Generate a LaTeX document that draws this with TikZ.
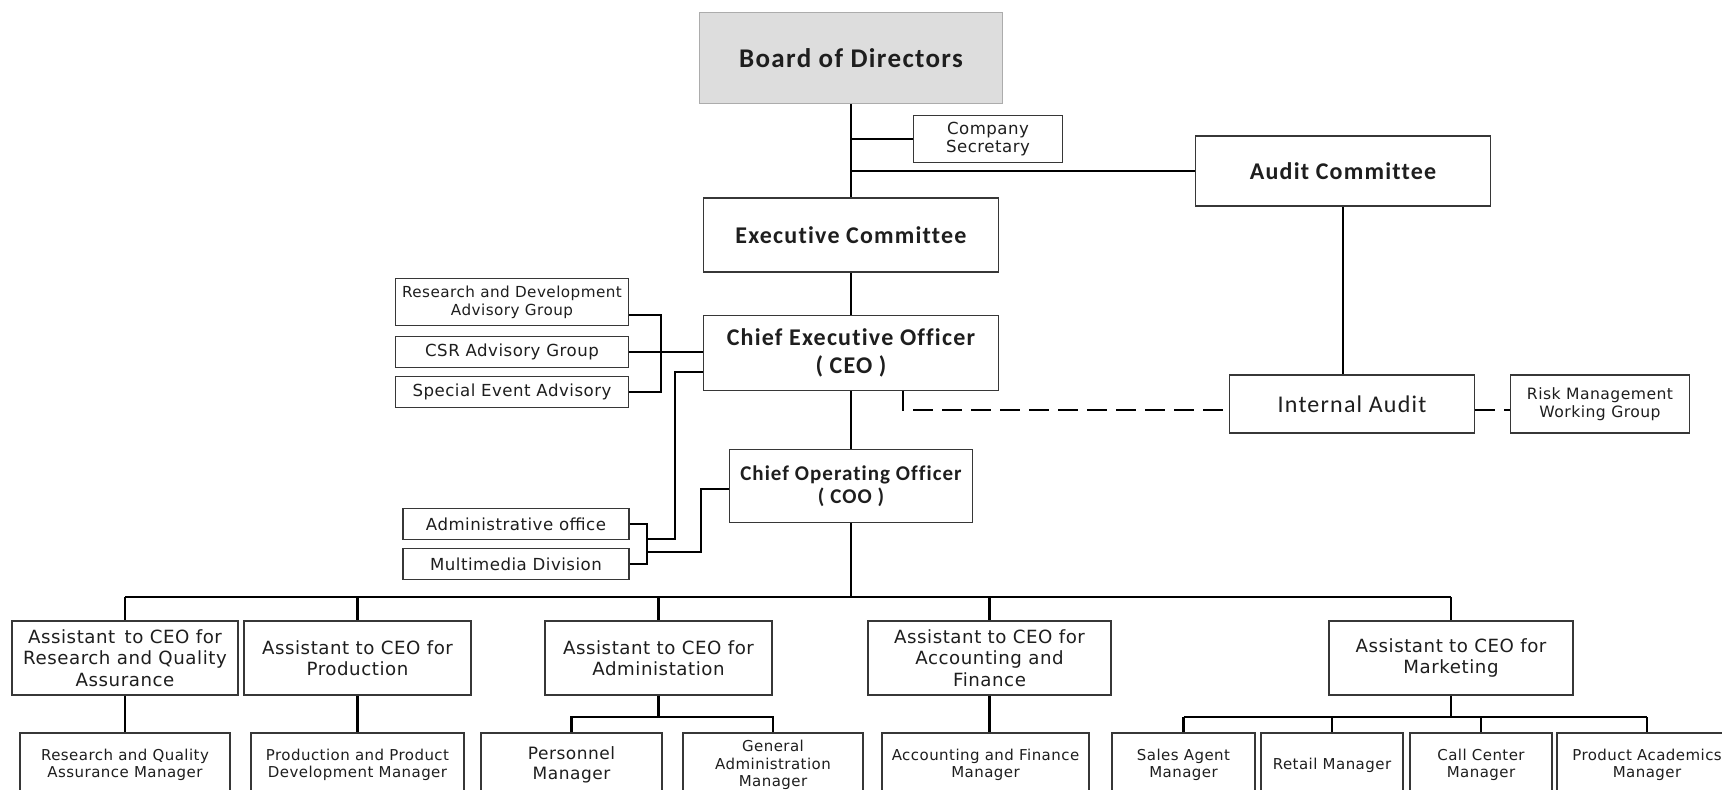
\documentclass[tikz,border=0pt]{standalone}
\usepackage{fontspec}
\setmainfont[LetterSpace=3]{DejaVu Sans}
\newfontfamily\headfont[LetterSpace=5,Ligatures=NoCommon]{Carlito}
\usepackage{tikz}
\definecolor{ink}{RGB}{30,30,30}
\definecolor{frame}{RGB}{55,55,55}
\definecolor{boardgray}{RGB}{221,221,221}
\tikzset{
  sz/.style 2 args={minimum width=#1*0.5pt,minimum height=#2*0.5pt},
  unitbox/.style={draw=frame,line width=0.8pt,fill=white,inner sep=1pt,align=center,text=ink},
  headbox/.style={unitbox,font=\headfont\bfseries\fontsize{12}{14}\selectfont},
  smallbox/.style={unitbox,font=\fontsize{8.3}{9}\selectfont},
  asst/.style={unitbox,font=\fontsize{9.1}{10.7}\selectfont},
  mgr/.style={unitbox,font=\fontsize{7.5}{8.7}\selectfont},
  wire/.style={draw=black,line width=1.3pt},
  dashwire/.style={wire,dash pattern=on 10pt off 4.5pt},
}
\begin{document}
\begin{tikzpicture}[x=0.5pt,y=-0.5pt]
  \path[use as bounding box] (0,0) rectangle (1722,790);
  \clip (0,0) rectangle (1722,790);
  % top of the chart
  \node[headbox,sz={303}{91},fill=boardgray,draw=gray!65,font=\headfont\bfseries\fontsize{13.5}{15}\selectfont] (board) at (851,58) {Board of Directors};
  \node[smallbox,sz={149}{47}] (sec) at (988,139) {Company\\Secretary};
  \node[headbox,sz={295}{70}] (audcom) at (1343,171) {Audit Committee};
  \node[headbox,sz={295}{74}] (exec) at (851,235) {Executive Committee};
  \node[headbox,sz={295}{75}] (ceo) at (851,353) {Chief Executive Officer\\( CEO )};
  \node[headbox,sz={243}{73},font=\headfont\bfseries\fontsize{10.5}{11.5}\selectfont] (coo) at (851,486) {Chief Operating Officer\\( COO )};
  \node[unitbox,sz={245}{58},font=\headfont\fontsize{12}{14}\selectfont] (ia) at (1352,404) {Internal Audit};
  \node[smallbox,sz={179}{58},font=\fontsize{7.8}{9}\selectfont] (risk) at (1600,404) {Risk Management\\Working Group};
  % advisory groups and offices
  \node[smallbox,sz={233}{47},font=\fontsize{7.6}{9}\selectfont] (rd) at (512,302) {Research and Development\\Advisory Group};
  \node[smallbox,sz={233}{31}] (csr) at (512,352) {CSR Advisory Group};
  \node[smallbox,sz={233}{31}] (sea) at (512,392) {Special Event Advisory};
  \node[smallbox,sz={226}{31}] (adm) at (516,524) {Administrative office};
  \node[smallbox,sz={226}{31}] (mm) at (516,564) {Multimedia Division};
  % assistants
  \node[asst,sz={226}{74}] (a1) at (125,658) {Assistant\, to CEO for\\Research and Quality\\Assurance};
  \node[asst,sz={227}{74}] (a2) at (357.5,658) {Assistant to CEO for\\Production};
  \node[asst,sz={227}{74}] (a3) at (658.5,658) {Assistant to CEO for\\Administation};
  \node[asst,sz={243}{74}] (a4) at (989.5,658) {Assistant to CEO for\\Accounting and\\Finance};
  \node[asst,sz={244}{74}] (a5) at (1451,658) {Assistant to CEO for\\Marketing};
  % managers
  \node[mgr,sz={210}{64}] (m1) at (125,765) {Research and Quality\\Assurance Manager};
  \node[mgr,sz={213}{64}] (m2) at (357.5,765) {Production and Product\\Development Manager};
  \node[mgr,sz={181}{64},font=\fontsize{8.5}{10}\selectfont] (m3) at (571.5,765) {Personnel\\Manager};
  \node[mgr,sz={180}{64}] (m4) at (773,765) {General\\Administration\\Manager};
  \node[mgr,sz={207}{64}] (m5) at (985.5,765) {Accounting and Finance\\Manager};
  \node[mgr,sz={143}{64}] (m6) at (1183.5,765) {Sales Agent\\Manager};
  \node[mgr,sz={142}{64}] (m7) at (1332,765) {Retail Manager};
  \node[mgr,sz={142}{64}] (m8) at (1481,765) {Call Center\\Manager};
  \node[mgr,sz={180}{64}] (m9) at (1647,765) {Product Academics\\Manager};

  \coordinate (bus) at (851,597);
  \coordinate (subbus) at (0,717);
  \coordinate (advbar) at (661,315);
  \coordinate (offbar) at (647,539);
  \coordinate (offbar2) at (647,552);
  \coordinate (ceoleg) at (675,372);
  \coordinate (cooleg) at (701,489);
  \coordinate (dl) at (903,410);

  % main line
  \draw[wire] (board.south) -- (exec.north);
  \draw[wire] (board.south |- sec.west) -- (sec.west);
  \draw[wire] (board.south |- audcom.west) -- (audcom.west);
  \draw[wire] (exec.south) -- (ceo.north);
  \draw[wire] (ceo.south) -- (coo.north);
  \draw[wire] (coo.south) -- (bus);
  \draw[wire] (audcom.south) -- (audcom.south |- ia.north);
  \draw[dashwire] (ceo.south -| dl) |- (ia.west |- dl);
  \draw[dashwire] (ia.east |- dl) -- (risk.west |- dl);
  % advisory bracket
  \draw[wire] (rd.east |- advbar) -- (advbar) |- (sea.east);
  \draw[wire] (csr.east) -- (ceo.west |- csr.east);
  \draw[wire] (adm.east) -| (offbar |- mm.east) -- (mm.east);
  \draw[wire] (ceo.west |- ceoleg) -- (ceoleg) |- (offbar);
  \draw[wire] (coo.west |- cooleg) -- (cooleg) |- (offbar2);
  % assistants
  \draw[wire] (a1.north |- bus) -- (a5.north |- bus);
  \foreach \n in {a1,a2,a3,a4,a5} \draw[wire] (\n.north |- bus) -- (\n.north);
  \draw[wire] (a1.south) -- (m1.north);
  \draw[wire] (a2.south) -- (m2.north);
  \draw[wire] (a4.south) -- (a4.south |- m5.north);
  \draw[wire] (a3.south) -- (a3.south |- subbus);
  \draw[wire] (m3.north) -- (m3.north |- subbus) -- (m4.north |- subbus) -- (m4.north);
  \draw[wire] (a5.south) -- (a5.south |- subbus);
  \draw[wire] (m6.north |- subbus) -- (m9.north |- subbus);
  \foreach \n in {m6,m7,m8,m9} \draw[wire] (\n.north |- subbus) -- (\n.north);
\end{tikzpicture}
\end{document}
